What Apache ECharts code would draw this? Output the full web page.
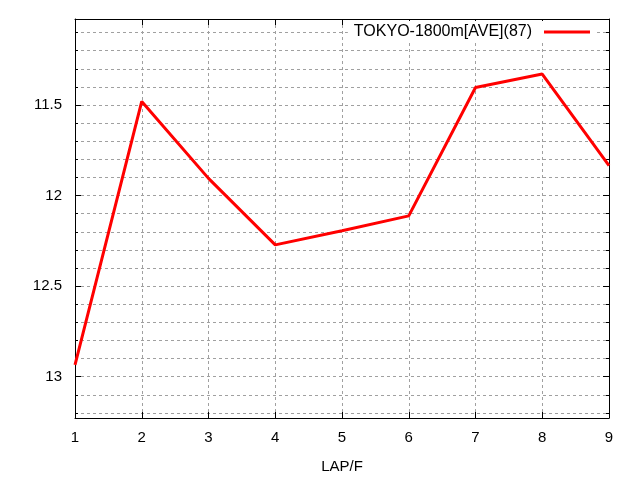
<!DOCTYPE html>
<html>
<head>
<meta charset="utf-8">
<script src="https://cdn.jsdelivr.net/npm/echarts@6/dist/echarts.min.js"></script>
<style>html,body{margin:0;padding:0;background:#fff}#c{width:640px;height:480px}</style>
</head>
<body>
<div id="c"></div>
<script>
const seriesName = 'TOKYO-1800m[AVE](87)';
const laps = [1, 2, 3, 4, 5, 6, 7, 8, 9];
const times = [12.935, 11.48, 11.905, 12.272, 12.194, 12.112, 11.403, 11.329, 11.834];
const yMin = 11.025, yMax = 13.228;
const xMin = 1, xMax = 9;

const font = 'Liberation Sans, Arial, sans-serif';
const gridColor = '#a0a0a0';
const chart = echarts.init(document.getElementById('c'), null, {renderer: 'canvas'});

function yAx(pos, split, opts) {
  return Object.assign({
    type: 'value', position: pos, inverse: true, min: yMin, max: yMax,
    splitNumber: split, gridIndex: 0,
    axisLine: {show: true, lineStyle: {color: '#000', width: 1}},
    axisTick: {show: true, inside: true, length: split > 10 ? 3 : 6, lineStyle: {color: '#000'}},
    axisLabel: {show: false},
    splitLine: {show: false}
  }, opts || {});
}

chart.setOption({
  animation: false,
  backgroundColor: '#fff',
  grid: {left: 75, right: 31, top: 19, bottom: 62},
  legend: {
    show: true, right: 44, top: 21, orient: 'horizontal', align: 'right',
    backgroundColor: '#fff', padding: [3, 6, 3, 6],
    icon: 'rect', itemWidth: 46, itemHeight: 3,
    textStyle: {fontFamily: font, fontSize: 16, color: '#000', padding: [0, 7, 0, 0]},
    data: [seriesName]
  },
  xAxis: [{
    type: 'value', position: 'bottom', min: xMin, max: xMax, interval: 1,
    name: 'LAP/F', nameLocation: 'middle', nameGap: 41,
    nameTextStyle: {fontFamily: font, fontSize: 15, color: '#000'},
    axisLine: {show: true, lineStyle: {color: '#000', width: 1}},
    axisTick: {show: true, inside: true, length: 6, lineStyle: {color: '#000'}},
    axisLabel: {fontFamily: font, fontSize: 15, color: '#000', margin: 12},
    splitLine: {show: true, lineStyle: {color: gridColor, type: [3, 3], width: 1}}
  }, {
    type: 'value', position: 'top', min: xMin, max: xMax, interval: 1,
    axisLine: {show: true, lineStyle: {color: '#000', width: 1}},
    axisTick: {show: true, inside: true, length: 6, lineStyle: {color: '#000'}},
    axisLabel: {show: false},
    splitLine: {show: false}
  }],
  yAxis: [
    yAx('left', 4, {
      axisLabel: {show: true, fontFamily: font, fontSize: 15, color: '#000', margin: 13,
                  showMinLabel: false, showMaxLabel: false}
    }),
    yAx('left', 22, {
      axisLine: {show: false},
      splitLine: {show: true, lineStyle: {color: gridColor, type: [3, 3], width: 1}}
    }),
    yAx('right', 4),
    yAx('right', 22, {axisLine: {show: false}})
  ],
  series: [{
    name: seriesName, type: 'line', xAxisIndex: 0, yAxisIndex: 0,
    data: laps.map((l, i) => [l, times[i]]),
    showSymbol: false, symbol: 'none',
    lineStyle: {color: '#ff0000', width: 3},
    itemStyle: {color: '#ff0000'},
    z: 3
  }]
});
</script>
</body>
</html>
